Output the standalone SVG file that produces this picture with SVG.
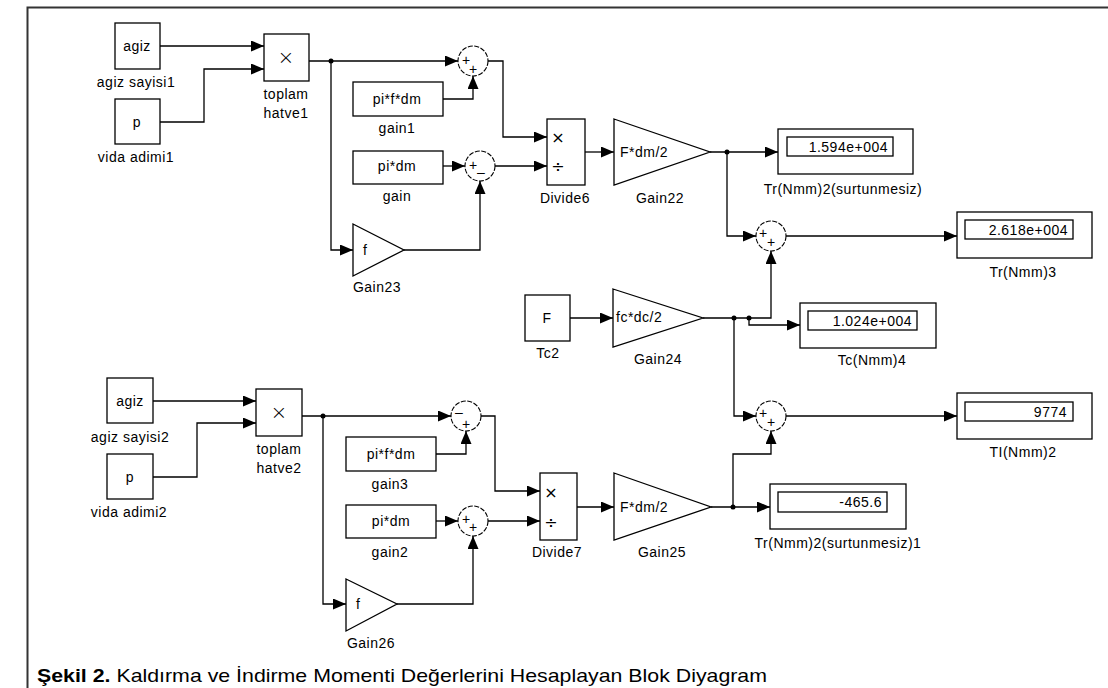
<svg xmlns="http://www.w3.org/2000/svg" width="1108" height="688" viewBox="0 0 1108 688">
<style>
.blk{fill:#fff;stroke:#000;stroke-width:1.3}
.w{fill:none;stroke:#000;stroke-width:1.3}
.sum{fill:#fff;stroke:#000;stroke-width:1.1;stroke-dasharray:5 1.5}
.t{font-family:"Liberation Sans",Arial,sans-serif;font-size:14px;letter-spacing:0.5px;fill:#000;text-anchor:middle;dominant-baseline:central}
.s{text-anchor:start}
.e{text-anchor:end}
.sg{font-family:"Liberation Sans",Arial,sans-serif;font-size:14px;fill:#000;text-anchor:middle;dominant-baseline:central}
.op{font-family:"DejaVu Sans",sans-serif;font-size:20px;font-weight:200;fill:#000;text-anchor:middle;dominant-baseline:central}
.op2{font-family:"DejaVu Sans",sans-serif;font-size:16px;fill:#000;text-anchor:middle;dominant-baseline:central}
.dot{fill:#000}
</style>
<defs>
<marker id="a" markerUnits="userSpaceOnUse" markerWidth="13" markerHeight="11" refX="13" refY="5.5" orient="auto">
<path d="M0,0 L13,5.5 L0,11 z" fill="#000"/>
</marker>
</defs>
<rect width="1108" height="688" fill="#fff"/>
<path d="M27.5,688 V7.5 H1108" fill="none" stroke="#333" stroke-width="2"/>

<g id="connectors">
<path class="w" marker-end="url(#a)" d="M160,46 H264"/>
<path class="w" marker-end="url(#a)" d="M160,122 H204 V69 H264"/>
<path class="w" marker-end="url(#a)" d="M309,61 H458"/>
<path class="w" marker-end="url(#a)" d="M331,61 V250 H353"/>
<path class="w" marker-end="url(#a)" d="M443,99 H473 V76"/>
<path class="w" marker-end="url(#a)" d="M488,61 H503 V137 H547"/>
<path class="w" marker-end="url(#a)" d="M443,166 H465"/>
<path class="w" marker-end="url(#a)" d="M495,166 H547"/>
<path class="w" marker-end="url(#a)" d="M404,250 H480 V181"/>
<path class="w" marker-end="url(#a)" d="M585,152 H614"/>
<path class="w" marker-end="url(#a)" d="M710,152 H778"/>
<path class="w" marker-end="url(#a)" d="M727,152 V236 H756"/>
<path class="w" marker-end="url(#a)" d="M786,236 H957"/>
<path class="w" marker-end="url(#a)" d="M570,318 H613"/>
<path class="w" marker-end="url(#a)" d="M703,318 H771 V251"/>
<path class="w" marker-end="url(#a)" d="M749,318 V325 H800"/>
<path class="w" marker-end="url(#a)" d="M734,318 V416 H756"/>
<path class="w" marker-end="url(#a)" d="M786,416 H957"/>
<path class="w" marker-end="url(#a)" d="M711,507 H770"/>
<path class="w" marker-end="url(#a)" d="M733,507 V454 H771 V431"/>
<path class="w" marker-end="url(#a)" d="M153,401 H256"/>
<path class="w" marker-end="url(#a)" d="M153,477 H197 V423 H256"/>
<path class="w" marker-end="url(#a)" d="M302,416 H451"/>
<path class="w" marker-end="url(#a)" d="M323,416 V604 H346"/>
<path class="w" marker-end="url(#a)" d="M436,454 H466 V431"/>
<path class="w" marker-end="url(#a)" d="M481,416 H495 V491 H540"/>
<path class="w" marker-end="url(#a)" d="M436,521 H458"/>
<path class="w" marker-end="url(#a)" d="M488,521 H540"/>
<path class="w" marker-end="url(#a)" d="M397,604 H473 V536"/>
<path class="w" marker-end="url(#a)" d="M577,507 H614"/>
<circle class="dot" cx="331" cy="61" r="2.5"/>
<circle class="dot" cx="727" cy="152" r="2.5"/>
<circle class="dot" cx="734" cy="318" r="2.5"/>
<circle class="dot" cx="749" cy="318" r="2.5"/>
<circle class="dot" cx="733" cy="507" r="2.5"/>
<circle class="dot" cx="323" cy="416" r="2.5"/>
</g>

<g id="agiz1"><rect class="blk" x="115" y="23" width="45" height="46"/><text class="t" x="137" y="46">agiz</text><text class="t" x="136" y="82">agiz sayisi1</text></g>
<g id="p1"><rect class="blk" x="115" y="99" width="45" height="45"/><text class="t" x="137" y="122">p</text><text class="t" x="136" y="157">vida adimi1</text></g>
<g id="toplam1"><rect class="blk" x="264" y="34" width="45" height="47"/><text class="op" x="286" y="57">×</text><text class="t" x="286" y="94">toplam</text><text class="t" x="286" y="113">hatve1</text></g>
<g id="sum1"><circle class="sum" cx="473" cy="61" r="15"/><text class="sg" x="466" y="60">+</text><text class="sg" x="473" y="69">+</text></g>
<g id="gain1"><rect class="blk" x="353" y="82" width="90" height="34"/><text class="t" x="397" y="99">pi*f*dm</text><text class="t" x="397" y="128">gain1</text></g>
<g id="gain"><rect class="blk" x="353" y="151" width="90" height="33"/><text class="t" x="397" y="166">pi*dm</text><text class="t" x="397" y="196">gain</text></g>
<g id="sum2"><circle class="sum" cx="480" cy="166" r="15"/><text class="sg" x="473" y="165">+</text><text class="sg" x="481" y="172">–</text></g>
<g id="divide6"><rect class="blk" x="547" y="119" width="38" height="66"/><text class="op2" x="558" y="137">×</text><text class="op2" x="558" y="166">÷</text><text class="t" x="565" y="198">Divide6</text></g>
<g id="gain22"><path class="blk" d="M614,119 L710,152 L614,185 z"/><text class="t s" x="620" y="152">F*dm/2</text><text class="t" x="660" y="198">Gain22</text></g>
<g id="gain23"><path class="blk" d="M353,224 L404,250 L353,276 z"/><text class="t s" x="363" y="250">f</text><text class="t" x="377" y="287">Gain23</text></g>
<g id="disp1"><rect class="blk" x="778" y="129" width="135" height="45"/><rect class="blk" x="787" y="137" width="106" height="19"/><text class="t e" x="888" y="146.5">1.594e+004</text><text class="t" x="843" y="189">Tr(Nmm)2(surtunmesiz)</text></g>
<g id="sum3"><circle class="sum" cx="771" cy="236" r="15"/><text class="sg" x="763" y="233">+</text><text class="sg" x="771" y="242">+</text></g>
<g id="disp2"><rect class="blk" x="957" y="212" width="135" height="46"/><rect class="blk" x="965" y="220" width="108" height="19"/><text class="t e" x="1068" y="229.5">2.618e+004</text><text class="t" x="1023" y="272">Tr(Nmm)3</text></g>
<g id="tc2"><rect class="blk" x="525" y="295" width="45" height="46"/><text class="t" x="547" y="318">F</text><text class="t" x="548" y="353">Tc2</text></g>
<g id="gain24"><path class="blk" d="M613,289 L703,318 L613,347 z"/><text class="t s" x="616" y="317">fc*dc/2</text><text class="t" x="658" y="359">Gain24</text></g>
<g id="disp3"><rect class="blk" x="800" y="303" width="136" height="45"/><rect class="blk" x="808" y="311" width="109" height="19"/><text class="t e" x="912" y="320.5">1.024e+004</text><text class="t" x="872" y="360">Tc(Nmm)4</text></g>
<g id="sum4"><circle class="sum" cx="771" cy="416" r="15"/><text class="sg" x="763" y="413">+</text><text class="sg" x="771" y="422">+</text></g>
<g id="disp4"><rect class="blk" x="957" y="393" width="135" height="46"/><rect class="blk" x="965" y="402" width="108" height="19"/><text class="t e" x="1067" y="411.5">9774</text><text class="t" x="1023" y="452">TI(Nmm)2</text></g>
<g id="disp5"><rect class="blk" x="770" y="484" width="136" height="45"/><rect class="blk" x="778" y="492" width="109" height="20"/><text class="t e" x="882" y="502">-465.6</text><text class="t" x="838" y="543">Tr(Nmm)2(surtunmesiz)1</text></g>

<g id="agiz2"><rect class="blk" x="107" y="378" width="46" height="45"/><text class="t" x="130" y="401">agiz</text><text class="t" x="130" y="437">agiz sayisi2</text></g>
<g id="p2"><rect class="blk" x="107" y="454" width="46" height="45"/><text class="t" x="130" y="477">p</text><text class="t" x="129" y="512">vida adimi2</text></g>
<g id="toplam2"><rect class="blk" x="256" y="389" width="46" height="47"/><text class="op" x="279" y="412">×</text><text class="t" x="279" y="449">toplam</text><text class="t" x="279" y="468">hatve2</text></g>
<g id="sum5"><circle class="sum" cx="466" cy="416" r="15"/><text class="sg" x="459" y="412">–</text><text class="sg" x="466" y="424">+</text></g>
<g id="gain3"><rect class="blk" x="346" y="437" width="90" height="34"/><text class="t" x="391" y="454">pi*f*dm</text><text class="t" x="390" y="484">gain3</text></g>
<g id="gain2"><rect class="blk" x="346" y="505" width="90" height="33"/><text class="t" x="391" y="521">pi*dm</text><text class="t" x="390" y="552">gain2</text></g>
<g id="sum6"><circle class="sum" cx="473" cy="521" r="15"/><text class="sg" x="466" y="519">+</text><text class="sg" x="473" y="527">+</text></g>
<g id="divide7"><rect class="blk" x="540" y="473" width="37" height="67"/><text class="op2" x="551" y="492">×</text><text class="op2" x="551" y="522">÷</text><text class="t" x="557" y="552">Divide7</text></g>
<g id="gain25"><path class="blk" d="M614,473 L711,507 L614,540 z"/><text class="t s" x="620" y="507">F*dm/2</text><text class="t" x="662" y="552">Gain25</text></g>
<g id="gain26"><path class="blk" d="M346,579 L397,604 L346,631 z"/><text class="t s" x="356" y="604">f</text><text class="t" x="371" y="643">Gain26</text></g>

<text x="37" y="682" font-family="Liberation Sans, Arial, sans-serif" font-size="19" fill="#000" textLength="730" lengthAdjust="spacingAndGlyphs"><tspan font-weight="bold">Şekil 2.</tspan> Kaldırma ve İndirme Momenti Değerlerini Hesaplayan Blok Diyagram</text>
</svg>
